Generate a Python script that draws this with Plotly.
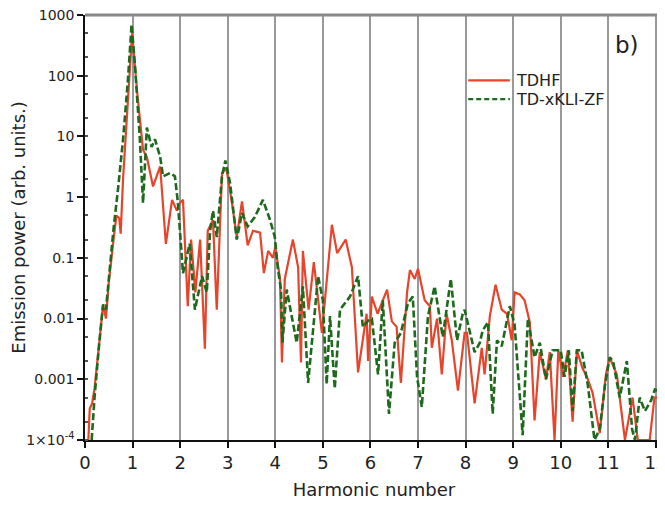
import plotly.graph_objects as go

# TDHF (red, solid)
tdhf_h = [0.07, 0.10, 0.15, 0.20, 0.30, 0.38, 0.44, 0.50, 0.60, 0.66, 0.72, 0.75, 0.80, 0.90, 0.99,
          1.10, 1.22, 1.30, 1.43, 1.58, 1.70, 1.83, 1.93, 1.99, 2.06, 2.16, 2.23, 2.32, 2.42, 2.52,
          2.58, 2.69, 2.77, 2.88, 2.97, 3.09, 3.19, 3.30, 3.42, 3.53, 3.68, 3.76, 3.85, 3.95, 4.00,
          4.10, 4.14, 4.20, 4.37, 4.48, 4.54, 4.58, 4.70, 4.81, 4.98, 5.19, 5.30, 5.48, 5.61, 5.74,
          5.92, 5.95, 6.03, 6.15, 6.35, 6.45, 6.55, 6.64, 6.77, 6.83, 6.93, 7.00, 7.14, 7.25, 7.29,
          7.40, 7.50, 7.60, 7.71, 7.84, 7.98, 8.03, 8.19, 8.34, 8.40, 8.51, 8.63, 8.76, 8.87, 8.97,
          9.03, 9.14, 9.24, 9.35, 9.45, 9.56, 9.69, 9.77, 9.87, 9.95, 10.05, 10.15, 10.25, 10.34,
          10.46, 10.55, 10.67, 10.82, 10.95, 11.03, 11.18, 11.35, 11.51, 11.62, 11.87, 11.97, 12.14]
tdhf_v = [1e-4, 3.3e-4, 4e-4, 7e-4, 0.004, 0.017, 0.01, 0.04, 0.2, 0.5, 0.45, 0.25, 2, 40, 500,
          50, 6, 4.6, 1.5, 3.2, 0.17, 0.9, 0.6, 0.8, 0.9, 0.016, 0.2, 0.027, 0.2, 0.0032,
          0.28, 0.42, 0.014, 2.5, 3.0, 0.8, 0.22, 0.85, 0.16, 0.28, 0.26, 0.056, 0.13, 0.1, 0.15,
          0.045, 0.0019, 0.045, 0.2, 0.07, 0.0019, 0.13, 0.014, 0.085, 0.0058, 0.35, 0.12, 0.2, 0.07, 0.0013,
          0.012, 0.002, 0.023, 0.012, 0.03, 0.009, 0.0073, 0.00087, 0.027, 0.063, 0.045, 0.066, 0.02, 0.016, 0.0033,
          0.01, 0.0012, 0.012, 0.0044, 0.00065, 0.0058, 0.0058, 0.0004, 0.0033, 0.0012, 0.011, 0.036, 0.014, 0.012, 0.0044,
          0.027, 0.025, 0.02, 0.0087, 0.00021, 0.0028, 0.001, 0.0028, 0.0001, 0.003, 0.0011, 0.003, 0.0002, 0.003,
          0.0015, 0.0011, 0.0006, 0.00013, 0.0012, 0.0023, 0.0012, 0.0001, 0.0005, 0.0001, 0.0001, 0.0005, 0.0005]

# TD-xKLI-ZF (green, dashed)
kli_h = [0.14, 0.20, 0.30, 0.38, 0.44, 0.50, 0.60, 0.70, 0.80, 0.90, 0.98, 1.05, 1.15, 1.22, 1.30,
         1.40, 1.47, 1.58, 1.64, 1.79, 1.89, 1.95, 2.06, 2.20, 2.31, 2.46, 2.56, 2.63, 2.69, 2.77,
         2.88, 2.95, 3.05, 3.19, 3.30, 3.42, 3.57, 3.74, 3.89, 3.99, 4.05, 4.12, 4.15, 4.24, 4.45,
         4.58, 4.69, 4.90, 5.00, 5.08, 5.15, 5.25, 5.36, 5.57, 5.74, 5.84, 5.99, 6.03, 6.16, 6.26,
         6.39, 6.51, 6.64, 6.79, 6.89, 6.98, 7.08, 7.21, 7.35, 7.52, 7.69, 7.82, 7.94, 7.98, 8.09,
         8.19, 8.30, 8.36, 8.47, 8.57, 8.66, 8.76, 8.93, 9.03, 9.20, 9.31, 9.45, 9.56, 9.69, 9.83,
         10.00, 10.08, 10.17, 10.25, 10.34, 10.44, 10.57, 10.71, 10.82, 10.93, 11.03, 11.10, 11.24,
         11.39, 11.50, 11.56, 11.66, 11.77, 11.90, 11.98, 12.14]
kli_v = [1e-4, 5e-4, 0.004, 0.017, 0.014, 0.05, 0.3, 1.5, 9, 80, 700, 150, 10, 0.8, 14,
         6.7, 9, 4.6, 2.2, 2.5, 2.2, 0.85, 0.056, 0.17, 0.014, 0.05, 0.027, 0.28, 0.6, 0.22,
         2.2, 4.0, 1.7, 0.2, 0.55, 0.33, 0.47, 0.9, 0.42, 0.22, 0.07, 0.03, 0.004, 0.03, 0.004,
         0.034, 0.00087, 0.05, 0.02, 0.00083, 0.011, 0.0007, 0.014, 0.023, 0.05, 0.0073, 0.01, 0.01, 0.0012, 0.02,
         0.00027, 0.004, 0.0058, 0.018, 0.023, 0.0011, 0.00035, 0.011, 0.034, 0.005, 0.045, 0.0044, 0.012, 0.014, 0.006,
         0.0028, 0.004, 0.0064, 0.0087, 0.00027, 0.0044, 0.0035, 0.016, 0.008, 0.00012, 0.01, 0.0023, 0.004, 0.001, 0.003,
         0.003, 0.0011, 0.003, 0.0003, 0.003, 0.003, 0.0008, 0.0001, 0.00015, 0.0008, 0.0023, 0.002, 0.0005,
         0.002, 0.00015, 0.0001, 0.0005, 0.0003, 0.00045, 0.00068, 0.0006]

series_names = ["TDHF", "TD-xKLI-ZF"]
series_colors = ["#e8432b", "#1d6a1d"]
y_tickvals = [1e-4, 1e-3, 1e-2, 1e-1, 1, 10, 100, 1000]
y_ticktext = ["1×10<sup>-4</sup>", "0.001", "0.01", "0.1", "1", "10", "100", "1000"]
x_tickvals = list(range(0, 13))

FONT = "DejaVu Sans, Liberation Sans, Arial, sans-serif"

fig = go.Figure()
fig.add_trace(go.Scatter(x=tdhf_h, y=tdhf_v, mode="lines", name=series_names[0],
                         line=dict(color=series_colors[0], width=2.2), showlegend=False))
fig.add_trace(go.Scatter(x=kli_h, y=kli_v, mode="lines", name=series_names[1],
                         line=dict(color=series_colors[1], width=2.6, dash="7px,3px"), showlegend=False))

fig.update_layout(
    width=665, height=510,
    margin=dict(l=77, r=10, t=7, b=78),
    paper_bgcolor="white", plot_bgcolor="white",
    font=dict(family=FONT, color="#222"),
    showlegend=False,
    xaxis=dict(range=[0, 12.15], tickvals=x_tickvals, showgrid=True, automargin=False,
               ticklabeloverflow="allow",
               gridcolor="#999999", gridwidth=1.5, zeroline=False,
               showline=True, linecolor="#111", linewidth=1.5,
               ticks="outside", ticklen=6, tickwidth=1.5, tickcolor="#111",
               tickfont=dict(size=18, color="#222"),
               title=dict(text="Harmonic number", font=dict(size=18, color="#222"), standoff=11)),
    yaxis=dict(type="log", range=[-4, 3], tickvals=y_tickvals, ticktext=y_ticktext,
               showgrid=False, zeroline=False, automargin=False,
               ticklabeloverflow="allow",
               showline=True, linecolor="#111", linewidth=1.5,
               ticks="outside", ticklen=6, tickwidth=1.5, tickcolor="#111",
               tickfont=dict(size=14, color="#222"),
               minor=dict(ticks="inside", ticklen=3, tickcolor="#555", showgrid=False),
               title=dict(text="Emission power (arb. units.)", font=dict(size=18, color="#222"), standoff=6)),
)

# top frame line
fig.add_shape(type="line", xref="paper", yref="paper", x0=0, x1=1, y0=1, y1=1,
              line=dict(color="#888888", width=3))

# legend (drawn manually to match the compact spacing)
leg_x0, leg_x1, leg_y = 0.663, 0.735, [0.846, 0.802]
dashes = ["solid", "5px,3px"]
for name, col, yy, dsh in zip(series_names, series_colors, leg_y, dashes):
    fig.add_shape(type="line", xref="paper", yref="paper", x0=leg_x0, x1=leg_x1, y0=yy, y1=yy,
                  line=dict(color=col, width=2.2, dash=dsh))
    fig.add_annotation(x=leg_x1 + 0.008, y=yy, xref="paper", yref="paper", text=name,
                       showarrow=False, xanchor="left", yanchor="middle",
                       font=dict(size=16, color="#222"))

fig.add_annotation(x=0.962, y=0.929, xref="paper", yref="paper", text="b)",
                   showarrow=False, xanchor="right", yanchor="middle",
                   font=dict(size=23, color="#222"))

fig.write_html("out.html")
